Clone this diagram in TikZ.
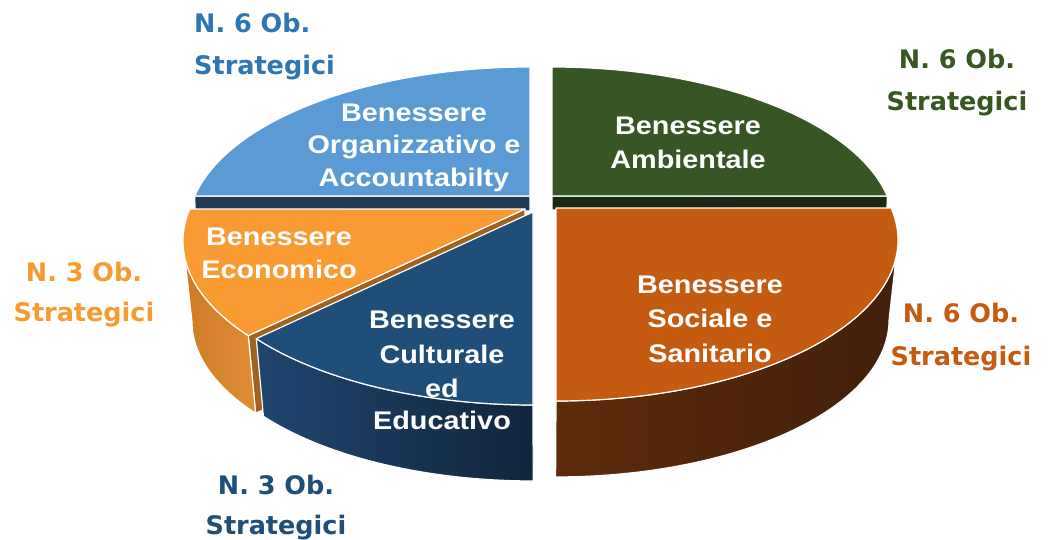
\documentclass[tikz,border=0pt]{standalone}
\usepackage{fontspec}
\newfontfamily\slicefont{Liberation Sans}[FakeStretch=1.13]
\newfontfamily\outfont{DejaVu Sans}
\definecolor{cLBtop}{HTML}{5B9BD5}
\definecolor{cLBrad}{HTML}{213B57}
\definecolor{cGtop}{HTML}{375623}
\definecolor{cGrad}{HTML}{1B2912}
\definecolor{cStop}{HTML}{C55A11}
\definecolor{cSsideL}{HTML}{5E2B0A}
\definecolor{cSsideR}{HTML}{43200A}
\definecolor{cECtop}{HTML}{F99A33}
\definecolor{cECsideL}{HTML}{CF7B26}
\definecolor{cECsideR}{HTML}{E08D36}
\definecolor{cECrad}{HTML}{A2621F}
\definecolor{cDBtop}{HTML}{1F4E79}
\definecolor{cDBsideL}{HTML}{1F4670}
\definecolor{cDBsideR}{HTML}{11253D}
\definecolor{lBlue}{HTML}{2E75B6}
\definecolor{lGreen}{HTML}{385723}
\definecolor{lOrange}{HTML}{F79B2E}
\definecolor{lNavy}{HTML}{1F4E79}
\definecolor{lRust}{HTML}{C55A11}
% top face: #1 Px, #2 Py, #3 t1, #4 t2, #5 style  (ellipse centre = P + (0,32))
\newcommand\pieTop[5]{\path[#5] (#1,#2) -- plot[domain=#3:#4,samples=70] ({#1+342*cos(\x)},{#2+32-161*sin(\x)}) -- cycle;}
% rim side: #1 Ex, #2 Ey, #3 t1, #4 t2, #5 style
\newcommand\pieSide[5]{\path[#5] plot[domain=#3:#4,samples=50] ({#1+342*cos(\x)},{#2-161*sin(\x)}) -- plot[domain=#4:#3,samples=50] ({540+0.975*(#1+342*cos(\x)-540)},{#2+80-0.975*161*sin(\x)}) -- cycle;}
\tikzset{
  face/.style={draw=white, line width=1.2pt, line join=round},
  intext/.style={text=white, font=\slicefont\bfseries\fontsize{25.5}{30}\selectfont, anchor=base, inner sep=0pt},
  outtext/.style={font=\outfont\bfseries\fontsize{25.5}{30}\selectfont, anchor=base, inner sep=0pt},
}
\begin{document}
\begin{tikzpicture}[x=1pt,y=-1pt]
\useasboundingbox (0,0) rectangle (1049,539);
\fill[white] (0,0) rectangle (1049,539);
% --- Benessere Ambientale (green)
\path[face, fill=cGrad] (552,196) -- (887.2,196) -- (887,210) -- (552,210) -- cycle;
\pieTop{552}{196}{90}{11.47}{face, fill=cGtop}
% --- Benessere Organizzativo (light blue)
\path[face, fill=cLBrad] (530,196) -- (194.8,196) -- (195,211) -- (530,211) -- cycle;
\pieTop{530}{196}{168.53}{90}{face, fill=cLBtop}
% --- Benessere Economico (orange)
\path[face, fill=cECrad] (525,209) -- (248.3,335.6) -- (255.6,413.2) -- (525.4,289) -- cycle;
\pieSide{525}{241}{180}{216}{face, left color=cECsideL, right color=cECsideR}
\pieTop{525}{209}{168.53}{216}{face, fill=cECtop}
% --- Benessere Sociale (rust)
\pieSide{556}{240}{0}{-90}{face, left color=cSsideL, right color=cSsideR}
\pieTop{556}{208}{11.47}{-90}{face, fill=cStop}
% --- Benessere Culturale (navy)
\pieSide{533}{244}{216}{270}{face, left color=cDBsideL, right color=cDBsideR}
\pieTop{533}{212}{216}{270}{face, fill=cDBtop}
% --- slice texts
\node[intext] (amb1) at (688,134) {Benessere};
\node[intext] (amb2) at (688,168) {Ambientale};
\node[intext] (org1) at (414,121) {Benessere};
\node[intext] (org2) at (414,153) {Organizzativo e};
\node[intext] (org3) at (414,186) {Accountabilty};
\node[intext] (soc1) at (710,293) {Benessere};
\node[intext] (soc2) at (710,327) {Sociale e};
\node[intext] (soc3) at (710,362) {Sanitario};
\node[intext] (eco1) at (279,245) {Benessere};
\node[intext] (eco2) at (279,278) {Economico};
\node[intext] (cul1) at (442,328) {Benessere};
\node[intext] (cul2) at (442,363) {Culturale};
\node[intext] (cul3) at (442,397) {ed};
\node[intext] (cul4) at (442,429) {Educativo};
% --- outer labels
\node[outtext, text=lBlue, anchor=base west] (tl1) at (194,32) {N. 6 Ob.};
\node[outtext, text=lBlue, anchor=base west] (tl2) at (194,74) {Strategici};
\node[outtext, text=lGreen] (tr1) at (957,68) {N. 6 Ob.};
\node[outtext, text=lGreen] (tr2) at (957,110) {Strategici};
\node[outtext, text=lOrange] (le1) at (84,281) {N. 3 Ob.};
\node[outtext, text=lOrange] (le2) at (84,321) {Strategici};
\node[outtext, text=lNavy] (bo1) at (276,494) {N. 3 Ob.};
\node[outtext, text=lNavy] (bo2) at (276,534) {Strategici};
\node[outtext, text=lRust] (ri1) at (961,322) {N. 6 Ob.};
\node[outtext, text=lRust] (ri2) at (961,365) {Strategici};
\end{tikzpicture}
\end{document}
